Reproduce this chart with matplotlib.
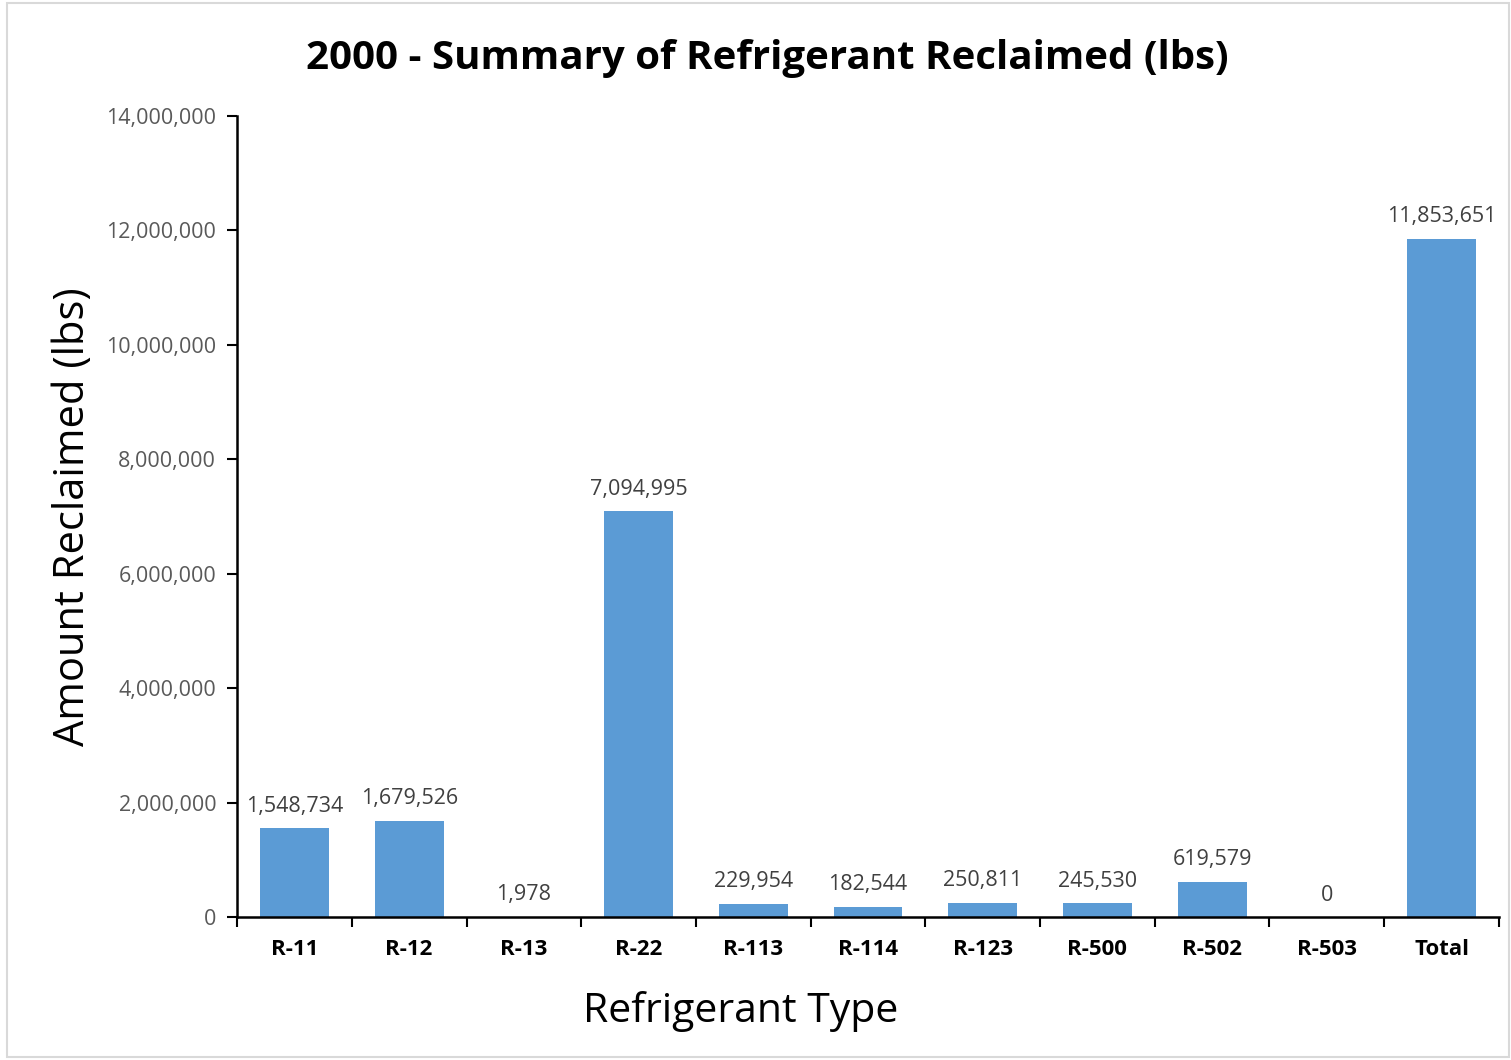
import matplotlib.pyplot as plt
from matplotlib.patches import Rectangle
from matplotlib.ticker import FuncFormatter
import numpy as np

categories = ['R-11', 'R-12', 'R-13', 'R-22', 'R-113', 'R-114', 'R-123', 'R-500', 'R-502', 'R-503', 'Total']
values = [1548734, 1679526, 1978, 7094995, 229954, 182544, 250811, 245530, 619579, 0, 11853651]
y_ticks = [0, 2000000, 4000000, 6000000, 8000000, 10000000, 12000000, 14000000]

plt.rcParams['font.family'] = ['Open Sans', 'DejaVu Sans']

fig = plt.figure(figsize=(15.11, 10.6), dpi=100)
ax = fig.add_axes([0.1569, 0.1349, 0.8351, 0.7557])

# cadre gris clair autour du graphique
fig.patches.append(Rectangle((7 / 1511, 3 / 1060), 1502 / 1511, 1054 / 1060,
                             transform=fig.transFigure, fill=False,
                             edgecolor='#d9d9d9', linewidth=1.5))

x = np.arange(len(categories))
ax.bar(x, values, width=0.6, color='#5b9bd5')

for xi, v in zip(x, values):
    ax.text(xi, v + 200000, f'{v:,}', ha='center', va='bottom',
            fontsize=15.5, color='#404040')

ax.set_xlim(-0.5, len(categories) - 0.5)
ax.set_ylim(0, 14000000)
ax.set_yticks(y_ticks)
ax.yaxis.set_major_formatter(FuncFormatter(lambda v, p: f'{int(v):,}'))
ax.tick_params(axis='y', labelsize=15.5, labelcolor='#595959', length=7, width=1.5,
               direction='out', pad=8)

# graduations x entre les catégories
ax.set_xticks(np.arange(-0.5, len(categories), 1.0))
ax.set_xticklabels([])
ax.set_xticks(x, minor=True)
ax.set_xticklabels(categories, minor=True, fontsize=16, fontweight='bold')
ax.tick_params(axis='x', which='major', length=7, width=1.5, direction='out')
ax.tick_params(axis='x', which='minor', length=0, pad=16)

for s in ['top', 'right']:
    ax.spines[s].set_visible(False)
for s in ['left', 'bottom']:
    ax.spines[s].set_linewidth(1.8)

fig.text(741 / 1511, 1 - 1012 / 1060, 'Refrigerant Type', fontsize=29.5,
         ha='center', va='center')
fig.text(73 / 1511, 1 - 517 / 1060, 'Amount Reclaimed (lbs)', fontsize=30,
         rotation=90, ha='center', va='center')
fig.text(767 / 1511, 1 - 59 / 1060, '2000 - Summary of Refrigerant Reclaimed (lbs)',
         fontsize=29, fontweight='bold', ha='center', va='center')

fig.savefig('out.png', dpi=100)
